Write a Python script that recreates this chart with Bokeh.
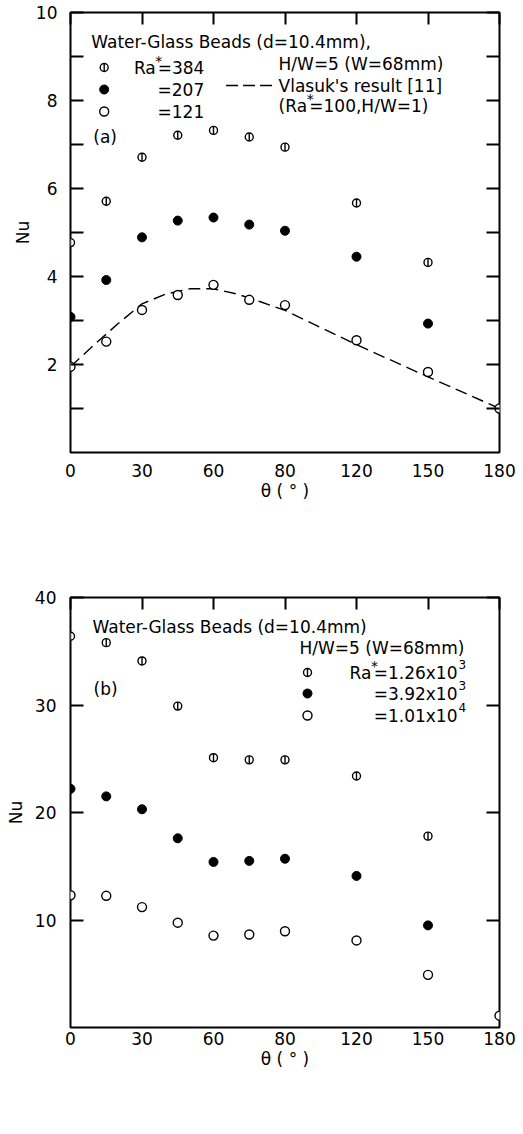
import math
from bokeh.plotting import figure
from bokeh.models import Label, FixedTicker, LinearAxis, Range1d
from bokeh.layouts import column
from bokeh.embed import file_html
from bokeh.resources import INLINE

# ---------------- data ----------------
# panel (a)
theta_a = [0, 15, 30, 45, 60, 75, 90, 120, 150]
nu_a_384 = [4.77, 5.71, 6.71, 7.21, 7.32, 7.17, 6.94, 5.67, 4.32]
nu_a_207 = [3.08, 3.92, 4.89, 5.27, 5.34, 5.18, 5.04, 4.45, 2.93]
theta_a_121 = [0, 15, 30, 45, 60, 75, 90, 120, 150, 180]
nu_a_121 = [1.95, 2.52, 3.24, 3.58, 3.81, 3.47, 3.35, 2.55, 1.83, 1.0]
theta_vlasuk = [0, 10, 20, 30, 40, 50, 60, 70, 80, 90, 120, 150, 180]
nu_vlasuk = [1.95, 2.45, 2.93, 3.38, 3.60, 3.72, 3.72, 3.60, 3.42, 3.23, 2.45, 1.72, 1.0]

# panel (b)
theta_b = [0, 15, 30, 45, 60, 75, 90, 120, 150]
nu_b_126e3 = [36.4, 35.8, 34.1, 29.9, 25.1, 24.9, 24.9, 23.4, 17.8]
nu_b_392e3 = [22.2, 21.5, 20.3, 17.6, 15.4, 15.5, 15.7, 14.1, 9.5]
theta_b_101e4 = [0, 15, 30, 45, 60, 75, 90, 120, 150, 180]
nu_b_101e4 = [12.3, 12.25, 11.2, 9.75, 8.55, 8.65, 8.95, 8.1, 4.9, 1.1]

x_ticks = [0, 30, 60, 90, 120, 150, 180]
x_tick_labels = ["0", "30", "60", "80", "120", "150", "180"]
y_ticks_a = [2, 4, 6, 8, 10]
y_minor_a = [1, 3, 5, 7, 9]
y_ticks_b = [10, 20, 30, 40]

FONT = "DejaVu Sans"


def make_fig(height, left, right, top, bottom, ymax, yticks, yminor, ystand, xstand,
             xlab_stand, ylab_stand):
    p = figure(width=523, height=height, x_range=Range1d(0, 180), y_range=Range1d(0, ymax),
               output_backend="svg", toolbar_location=None,
               x_axis_location=None, y_axis_location=None,
               min_border_left=left, min_border_right=right,
               min_border_top=top, min_border_bottom=bottom)
    p.grid.visible = False
    p.outline_line_color = "black"
    p.outline_line_width = 2
    p.background_fill_color = "white"
    p.border_fill_color = "white"

    bx = LinearAxis(ticker=FixedTicker(ticks=x_ticks),
                    major_label_overrides={t: l for t, l in zip(x_ticks, x_tick_labels)},
                    axis_label="θ ( ° )")
    bx.major_tick_in = 0
    bx.major_tick_out = 0
    bx.axis_line_color = None
    bx.major_label_text_font = FONT
    bx.major_label_text_font_size = "17px"
    bx.major_label_text_color = "black"
    bx.major_label_standoff = xstand
    bx.axis_label_text_font = FONT
    bx.axis_label_text_font_size = "17px"
    bx.axis_label_text_font_style = "normal"
    bx.axis_label_text_color = "black"
    bx.axis_label_standoff = xlab_stand
    p.add_layout(bx, "below")

    tx = LinearAxis(ticker=FixedTicker(ticks=x_ticks))
    tx.major_tick_in = 12
    tx.major_tick_out = 0
    tx.major_tick_line_width = 2
    tx.major_tick_line_color = "black"
    tx.axis_line_color = None
    tx.major_label_text_font_size = "1px"
    tx.major_label_text_color = None
    tx.major_label_standoff = 0
    p.add_layout(tx, "above")

    ly = LinearAxis(ticker=FixedTicker(ticks=yticks, minor_ticks=yminor), axis_label="Nu")
    ly.major_tick_in = 13
    ly.major_tick_out = 0
    ly.minor_tick_in = 13
    ly.minor_tick_out = 0
    ly.major_tick_line_width = 2
    ly.minor_tick_line_width = 2
    ly.major_tick_line_color = "black"
    ly.minor_tick_line_color = "black"
    ly.axis_line_color = None
    ly.major_label_text_font = FONT
    ly.major_label_text_font_size = "17px"
    ly.major_label_text_color = "black"
    ly.major_label_standoff = ystand
    ly.axis_label_text_font = FONT
    ly.axis_label_text_font_size = "17px"
    ly.axis_label_text_font_style = "normal"
    ly.axis_label_text_color = "black"
    ly.axis_label_standoff = ylab_stand
    p.add_layout(ly, "left")

    ry = LinearAxis(ticker=FixedTicker(ticks=yticks, minor_ticks=yminor))
    ry.major_tick_in = 13
    ry.major_tick_out = 0
    ry.minor_tick_in = 13
    ry.minor_tick_out = 0
    ry.major_tick_line_width = 2
    ry.minor_tick_line_width = 2
    ry.major_tick_line_color = "black"
    ry.minor_tick_line_color = "black"
    ry.axis_line_color = None
    ry.major_label_text_font_size = "1px"
    ry.major_label_text_color = None
    ry.major_label_standoff = 0
    p.add_layout(ry, "right")
    return p


def txt(p, conv, px, py, s, size="17px", align="left", angle=0.0):
    x, y = conv(px, py)
    p.add_layout(Label(x=x, y=y, text=s, text_font=FONT, text_font_size=size,
                       text_align=align, text_baseline="middle", angle=angle,
                       text_color="black"))


def phi(p, xs, ys, size=8):
    p.scatter(xs, ys, marker="circle", size=size, fill_color="white",
              line_color="black", line_width=1.4)
    p.scatter(xs, ys, marker="dash", size=size, angle=math.pi / 2,
              line_color="black", line_width=1.4)


def filled(p, xs, ys, size=9):
    p.scatter(xs, ys, marker="circle", size=size, fill_color="black",
              line_color="black", line_width=1)


def opened(p, xs, ys, size=9):
    p.scatter(xs, ys, marker="circle", size=size, fill_color="white",
              line_color="black", line_width=1.4)


# ---------------- panel (a) ----------------
pa = make_fig(540, 67, 23, 12, 88, 10, y_ticks_a, y_minor_a, 13, 11, 1, 0)


def ca(px, py):
    return ((px - 67) / 433 * 180, (452 - py) / 440 * 10)


pa.line(theta_vlasuk, nu_vlasuk, line_color="black", line_width=1.4, line_dash="12 6")
phi(pa, theta_a, nu_a_384)
filled(pa, theta_a, nu_a_207)
opened(pa, theta_a_121, nu_a_121)

txt(pa, ca, 88, 41, "Water-Glass Beads (d=10.4mm),")
lx, ly1 = ca(101, 67)
_, ly2 = ca(101, 89)
_, ly3 = ca(101, 111)
phi(pa, [lx], [ly1])
filled(pa, [lx], [ly2])
opened(pa, [lx], [ly3])
txt(pa, ca, 131, 67, "Ra")
txt(pa, ca, 156, 60, "*", size="14px", align="center")
txt(pa, ca, 155, 67, "=384")
txt(pa, ca, 202, 89, "=207", align="right")
txt(pa, ca, 202, 111, "=121", align="right")
txt(pa, ca, 90, 136, "(a)")
txt(pa, ca, 277, 63, "H/W=5 (W=68mm)")
dx0, dy0 = ca(224, 85)
dx1, _ = ca(272, 85)
pa.line([dx0, dx1], [dy0, dy0], line_color="black", line_width=1.4, line_dash="12 5")
txt(pa, ca, 277, 85, "Vlasuk's result [11]")
txt(pa, ca, 277, 105, "(Ra")
txt(pa, ca, 309, 98, "*", size="14px", align="center")
txt(pa, ca, 308, 105, "=100,H/W=1)")

# ---------------- panel (b) ----------------
pb = make_fig(594, 70, 24, 57, 107, 40, y_ticks_b, [], 14, 4, 1, 6)


def cb(px, py):
    return ((px - 70) / 429 * 180, (1027 - py) / 430 * 40)


phi(pb, theta_b, nu_b_126e3)
filled(pb, theta_b, nu_b_392e3)
opened(pb, theta_b_101e4, nu_b_101e4)

txt(pb, cb, 92, 626, "Water-Glass Beads (d=10.4mm)")
txt(pb, cb, 299, 647, "H/W=5 (W=68mm)")
mx, my1 = cb(307, 672)
_, my2 = cb(307, 693)
_, my3 = cb(307, 715)
phi(pb, [mx], [my1])
filled(pb, [mx], [my2])
opened(pb, [mx], [my3])
txt(pb, cb, 349, 672, "Ra")
txt(pb, cb, 374, 665, "*", size="14px", align="center")
txt(pb, cb, 457, 672, "=1.26x10", align="right")
txt(pb, cb, 458, 664, "3", size="12px")
txt(pb, cb, 457, 693, "=3.92x10", align="right")
txt(pb, cb, 458, 685, "3", size="12px")
txt(pb, cb, 457, 715, "=1.01x10", align="right")
txt(pb, cb, 458, 707, "4", size="12px")
txt(pb, cb, 93, 688, "(b)")

layout = column(pa, pb, spacing=0)
open("out.html", "w").write(file_html(layout, INLINE))
